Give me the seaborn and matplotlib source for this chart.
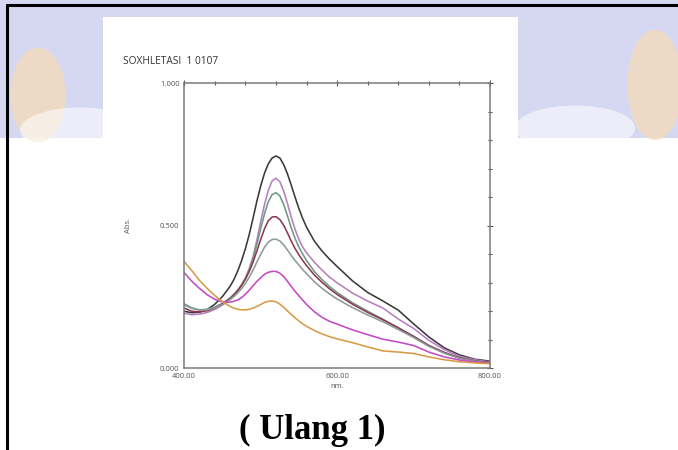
import numpy as np
import pandas as pd
import matplotlib
matplotlib.use("Agg")
import matplotlib.pyplot as plt
from matplotlib import patches
import seaborn as sns

# Wavelength grid (nm)
wavelength = [400, 410, 420, 430, 440, 450, 460, 465, 470, 475, 480, 485, 490, 495, 500, 505, 510, 515, 520, 525,
              530, 535, 540, 545, 550, 555, 560, 570, 580, 590, 600, 620, 640, 660, 680, 700, 720, 740, 760, 780, 800]

# Absorbance spectra
abs_black = [0.200, 0.195, 0.197, 0.206, 0.225, 0.252, 0.288, 0.312, 0.342, 0.378, 0.420, 0.470, 0.527, 0.587, 0.640,
             0.685, 0.718, 0.738, 0.745, 0.738, 0.715, 0.682, 0.642, 0.600, 0.560, 0.525, 0.495, 0.447, 0.412, 0.383,
             0.357, 0.307, 0.266, 0.236, 0.204, 0.156, 0.110, 0.072, 0.047, 0.032, 0.025]
abs_pink = [0.193, 0.188, 0.190, 0.196, 0.207, 0.222, 0.243, 0.256, 0.272, 0.292, 0.318, 0.350, 0.392, 0.450, 0.515,
            0.575, 0.625, 0.658, 0.667, 0.655, 0.622, 0.578, 0.530, 0.487, 0.452, 0.425, 0.405, 0.373, 0.345, 0.320,
            0.300, 0.264, 0.236, 0.211, 0.173, 0.140, 0.098, 0.066, 0.042, 0.030, 0.022]
abs_green = [0.226, 0.212, 0.205, 0.207, 0.215, 0.228, 0.247, 0.260, 0.275, 0.293, 0.315, 0.345, 0.385, 0.435, 0.490,
             0.543, 0.585, 0.610, 0.616, 0.605, 0.575, 0.535, 0.492, 0.455, 0.425, 0.400, 0.378, 0.340, 0.312, 0.287,
             0.266, 0.230, 0.200, 0.172, 0.142, 0.112, 0.080, 0.055, 0.036, 0.025, 0.018]
abs_darkred = [0.211, 0.200, 0.198, 0.202, 0.212, 0.226, 0.245, 0.258, 0.273, 0.291, 0.313, 0.340, 0.373, 0.412, 0.452,
               0.490, 0.518, 0.531, 0.532, 0.522, 0.502, 0.475, 0.446, 0.420, 0.398, 0.378, 0.360, 0.328, 0.302, 0.279,
               0.259, 0.225, 0.196, 0.170, 0.142, 0.112, 0.080, 0.056, 0.037, 0.026, 0.020]
abs_gray = [0.222, 0.210, 0.204, 0.205, 0.212, 0.224, 0.241, 0.252, 0.265, 0.280, 0.298, 0.320, 0.345, 0.373, 0.400,
            0.425, 0.443, 0.452, 0.453, 0.447, 0.433, 0.415, 0.396, 0.378, 0.362, 0.346, 0.332, 0.304, 0.281, 0.261,
            0.243, 0.213, 0.187, 0.163, 0.136, 0.108, 0.077, 0.053, 0.035, 0.025, 0.018]
abs_magenta = [0.335, 0.305, 0.280, 0.258, 0.242, 0.233, 0.232, 0.235, 0.240, 0.248, 0.260, 0.274, 0.290, 0.305, 0.318,
               0.330, 0.337, 0.340, 0.340, 0.334, 0.322, 0.305, 0.287, 0.270, 0.254, 0.239, 0.224, 0.199, 0.179, 0.165,
               0.155, 0.135, 0.118, 0.102, 0.092, 0.080, 0.057, 0.040, 0.029, 0.022, 0.018]
abs_orange = [0.374, 0.342, 0.308, 0.280, 0.255, 0.234, 0.217, 0.211, 0.207, 0.205, 0.205, 0.207, 0.211, 0.217, 0.224,
              0.231, 0.235, 0.236, 0.233, 0.225, 0.214, 0.201, 0.189, 0.177, 0.166, 0.156, 0.147, 0.133, 0.121, 0.111,
              0.103, 0.090, 0.075, 0.061, 0.057, 0.052, 0.040, 0.030, 0.023, 0.019, 0.016]

series = {
    "black": abs_black, "pink": abs_pink, "green": abs_green, "darkred": abs_darkred,
    "gray": abs_gray, "magenta": abs_magenta, "orange": abs_orange,
}
colors = {
    "black": "#3a3a3a", "pink": "#b67fc0", "green": "#6e9a80", "darkred": "#8a3a52",
    "gray": "#8d9a98", "magenta": "#c44ac4", "orange": "#d99a48",
}

x_ticks = [400, 600, 800]
x_labels = ["400.00", "600.00", "800.00"]
y_ticks = [0.0, 0.5, 1.0]
y_labels = ["0.000", "0.500", "1.000"]

df = pd.concat(
    [pd.DataFrame({"nm": wavelength, "Abs": vals, "sample": name}) for name, vals in series.items()],
    ignore_index=True,
)

sns.set_style("white")
plt.rcParams["font.family"] = ["Open Sans", "DejaVu Sans"]

W, H = 678, 450
fig = plt.figure(figsize=(W / 100, H / 100), dpi=100)
fig.patch.set_facecolor("white")

# Page background with faint watermark, in pixel coordinates
bg = fig.add_axes([0, 0, 1, 1], zorder=0)
bg.set_xlim(0, W)
bg.set_ylim(H, 0)
bg.axis("off")
bg.add_patch(patches.Rectangle((0, 0), W, 138, color="#d6d8f1", lw=0))
bg.add_patch(patches.Ellipse((339, 330), 860, 390, color="white", lw=0))
bg.add_patch(patches.Ellipse((38, 95), 55, 95, color="#f4dcb8", lw=0, alpha=0.75))
bg.add_patch(patches.Ellipse((655, 85), 55, 110, color="#f4dcb8", lw=0, alpha=0.75))
bg.add_patch(patches.Ellipse((80, 130), 120, 45, color="white", lw=0, alpha=0.55))
bg.add_patch(patches.Ellipse((575, 128), 120, 45, color="white", lw=0, alpha=0.55))
bg.add_patch(patches.Rectangle((103, 17), 415, 433, color="white", lw=0))
bg.plot([7, 7], [5, H], color="black", lw=2.2)
bg.plot([7, W], [5, 5], color="black", lw=2.2)

# Spectrum axes
ax = fig.add_axes([184.3 / W, 1 - 368.3 / H, (490 - 184.3) / W, (368.3 - 83.3) / H], zorder=2)
ax.set_facecolor("white")
sns.lineplot(data=df, x="nm", y="Abs", hue="sample", palette=colors,
             hue_order=list(series.keys()), legend=False, linewidth=1.15, ax=ax)

ax.set_xlim(400, 800)
ax.set_ylim(0, 1)
ax.set_xticks(x_ticks)
ax.set_xticklabels(x_labels)
ax.set_yticks(y_ticks)
ax.set_yticklabels(y_labels)
ax.set_xticks(np.arange(440, 800, 40), minor=True)
ax.set_yticks(np.arange(0.1, 1.0, 0.1), minor=True)
ax.tick_params(which="both", top=True, right=True, direction="inout",
               color="#555555", width=0.8)
ax.tick_params(which="major", length=4, labelsize=5.5, labelcolor="#555555", pad=1.5)
ax.tick_params(which="minor", length=3)
for s in ax.spines.values():
    s.set_color("#7a7a7a")
    s.set_linewidth(1.1)
ax.set_xlabel("nm.", fontsize=5.5, color="#555555", labelpad=2)
ax.set_ylabel("Abs.", fontsize=5.5, color="#555555", labelpad=20)

fig.text(123 / W, 1 - 62 / H, "SOXHLETASI  1 0107", fontsize=7.3, color="#333333",
         ha="left", va="center")
fig.text(312 / W, 1 - 430 / H, "( Ulang 1)", fontsize=25, fontweight="bold",
         family=["Liberation Serif", "DejaVu Serif"], color="black", ha="center", va="center")

fig.savefig("out.png", dpi=100, facecolor="white")
